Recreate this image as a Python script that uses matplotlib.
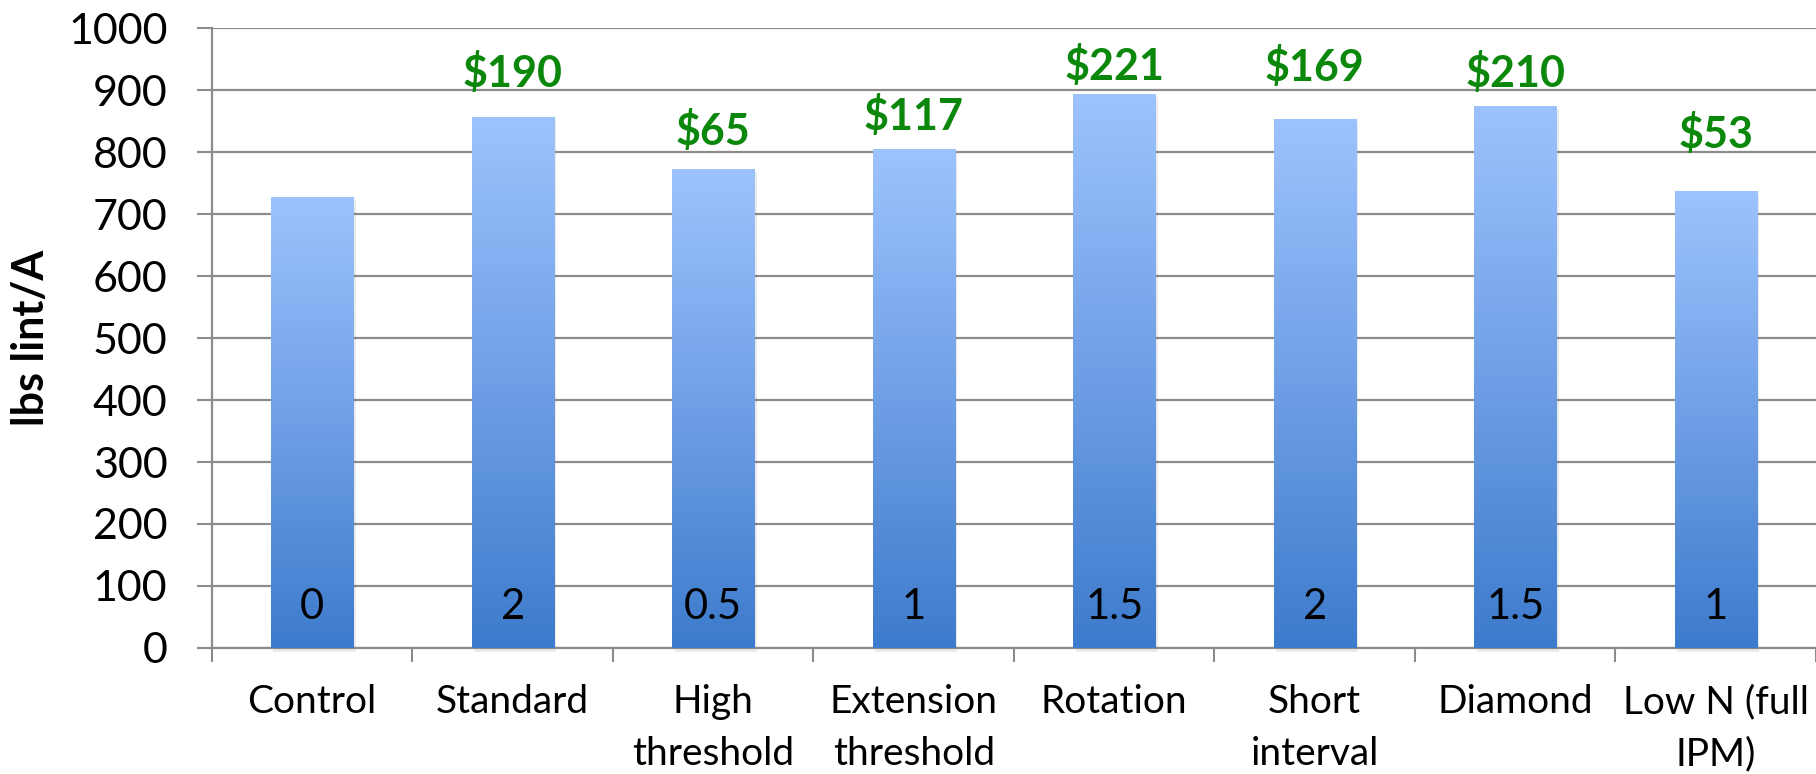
import numpy as np
import matplotlib
matplotlib.use('Agg')
import matplotlib.pyplot as plt
from matplotlib.colors import LinearSegmentedColormap
from matplotlib.patches import Rectangle

categories = ['Control', 'Standard', 'High\nthreshold', 'Extension\nthreshold',
              'Rotation', 'Short\ninterval', 'Diamond', 'Low N (full\nIPM)']
lint_yield = [726, 856, 772, 804, 892, 853, 873, 737]
net_return = [None, '$190', '$65', '$117', '$221', '$169', '$210', '$53']
sprays = ['0', '2', '0.5', '1', '1.5', '2', '1.5', '1']

plt.rcParams['font.family'] = ['Lato', 'DejaVu Sans']

fig = plt.figure(figsize=(18.16, 7.74), dpi=100)
ax = fig.add_axes([0.1167, 0.1628, 0.8833, 0.801])

x = np.arange(len(categories))
width = 0.41
grad = LinearSegmentedColormap.from_list('bar', ['#3d7bcc', '#6f9fe6', '#9dc3fd'])
g = np.linspace(0, 1, 256).reshape(-1, 1)

for xi, h in zip(x, lint_yield):
    # soft drop shadow, then gradient fill
    ax.add_patch(Rectangle((xi - width / 2 + 0.012, -6), width, h + 2,
                           facecolor='#000000', alpha=0.08, edgecolor='none',
                           zorder=2, clip_on=False))
    ax.imshow(g, cmap=grad, origin='lower', aspect='auto', zorder=3,
              extent=(xi - width / 2, xi + width / 2, 0, h))

# green net-return labels above the bars, spray counts inside
label_gap = [0, 71, 62, 54, 47, 84, 55, 92]
for xi, h, txt, gap in zip(x, lint_yield, net_return, label_gap):
    if txt:
        ax.text(xi, h + gap, txt, ha='center', va='center', fontsize=31,
                fontweight='bold', color='#0b870b', zorder=5)
for xi, s in zip(x, sprays):
    ax.text(xi, 66, s, ha='center', va='center', fontsize=30, color='black', zorder=5)

ax.set_xlim(-0.5, len(categories) - 0.5)
ax.set_ylim(0, 1000)
ax.set_yticks(np.arange(0, 1001, 100))
ax.tick_params(axis='y', labelsize=31, length=11, width=1.5, color='#8c8c8c', pad=21)

ax.set_xticks(x)
ax.set_xticklabels(categories, fontsize=28, linespacing=1.55)
ax.set_xticks(np.arange(-0.5, len(categories), 1), minor=True)
ax.tick_params(axis='x', which='major', length=0, pad=26)
ax.tick_params(axis='x', which='minor', length=10, width=1.5, color='#8c8c8c')

ax.grid(axis='y', color='#8c8c8c', linewidth=1.6, zorder=0)
ax.set_axisbelow(True)
for side in ['top', 'right']:
    ax.spines[side].set_visible(False)
for side in ['left', 'bottom']:
    ax.spines[side].set_color('#8c8c8c')
    ax.spines[side].set_linewidth(1.6)

ax.set_ylabel('lbs lint/A', fontsize=31, fontweight='bold', labelpad=12)

fig.savefig('out.png', dpi=100)
